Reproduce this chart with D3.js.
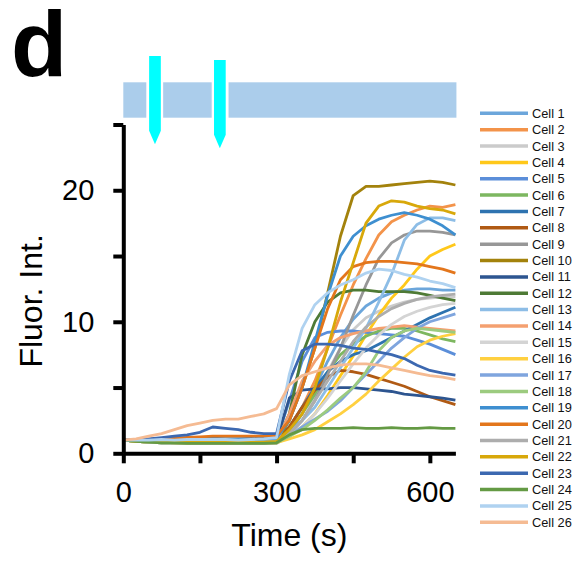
<!DOCTYPE html>
<html>
<head>
<meta charset="utf-8">
<script src="https://cdn.jsdelivr.net/npm/d3@7"></script>
<style>
  body { margin: 0; background: #fff; }
  svg { display: block; font-family: "Liberation Sans", Arial, sans-serif; }
</style>
</head>
<body>
<svg id="chart"></svg>
<script>
// sampling times (s)
const times = [0, 25, 50, 75, 100, 125, 150, 175, 200, 225, 250, 275, 300,
    325, 350, 375, 400, 425, 450, 475, 500, 525, 550, 575, 600, 625, 650];

const cellLabels = ["Cell 1", "Cell 2", "Cell 3", "Cell 4", "Cell 5", "Cell 6", "Cell 7",
    "Cell 8", "Cell 9", "Cell 10", "Cell 11", "Cell 12", "Cell 13", "Cell 14", "Cell 15",
    "Cell 16", "Cell 17", "Cell 18", "Cell 19", "Cell 20", "Cell 21", "Cell 22", "Cell 23",
    "Cell 24", "Cell 25", "Cell 26"];

// fluorescence per cell
const cellValues = [
    [1.0,1.0,0.95,0.9,0.9,0.9,0.85,0.9,0.9,0.85,0.9,0.9,0.9, 1.5,3.0,5.0,7.0,8.8,10.2,11.2,11.8,12.2,12.4,12.5,12.5,12.4,12.4],
    [1.0,0.95,0.9,0.9,0.85,0.85,0.85,0.8,0.85,0.8,0.85,0.85,0.9, 2.0,3.5,5.5,8.0,10.5,12.8,14.8,16.6,17.6,18.1,18.5,18.8,18.7,18.9],
    [1.0,0.9,0.85,0.8,0.8,0.75,0.75,0.75,0.75,0.75,0.75,0.75,0.75, 1.3,2.5,4.2,6.2,8.0,9.4,10.3,10.8,11.2,11.5,11.7,11.8,11.9,11.9],
    [1.0,0.9,0.85,0.85,0.8,0.8,0.8,0.8,0.8,0.8,0.8,0.8,0.8, 1.3,2.0,3.0,4.4,5.9,7.4,9.0,10.5,11.8,12.8,14.0,15.0,15.5,15.9],
    [1.0,0.95,0.95,0.9,0.9,0.9,0.9,0.9,0.9,0.9,0.9,0.9,1.0, 4.0,7.0,8.8,9.2,9.3,9.3,9.2,9.1,9.0,8.9,8.6,8.3,7.9,7.5],
    [1.0,0.9,0.85,0.8,0.8,0.8,0.8,0.8,0.8,0.8,0.8,0.8,0.85, 1.8,3.0,4.5,6.2,7.5,8.3,8.9,9.3,9.5,9.5,9.3,9.0,8.7,8.5],
    [1.0,1.0,1.05,1.1,1.1,1.1,1.1,1.15,1.1,1.1,1.15,1.2,1.2, 2.0,3.5,5.0,6.2,7.0,7.5,7.8,8.3,8.8,9.3,9.8,10.3,10.7,11.1],
    [1.0,0.95,0.9,0.85,0.85,0.85,0.8,0.85,0.8,0.8,0.85,0.85,0.9, 2.0,3.5,4.8,5.8,6.3,6.2,6.0,5.7,5.4,5.1,4.7,4.3,4.0,3.7],
    [1.0,0.9,0.85,0.8,0.8,0.8,0.75,0.75,0.8,0.75,0.75,0.8,0.8, 1.5,2.5,4.0,6.0,8.0,10.5,12.8,14.8,16.0,16.6,16.9,16.9,16.8,16.6],
    [1.0,0.95,0.9,0.9,0.85,0.85,0.85,0.85,0.85,0.85,0.85,0.85,0.9, 2.5,5.0,8.0,12.2,16.5,19.6,20.3,20.3,20.4,20.5,20.6,20.7,20.6,20.4],
    [1.0,0.95,0.9,0.9,0.9,0.9,0.9,0.95,0.95,0.9,0.95,0.95,1.0, 4.2,4.8,4.9,4.9,5.0,5.0,4.9,4.8,4.7,4.5,4.4,4.3,4.2,4.05],
    [1.0,0.9,0.85,0.85,0.8,0.8,0.8,0.8,0.8,0.8,0.8,0.8,0.85, 3.0,7.5,10.0,11.5,12.2,12.4,12.4,12.3,12.3,12.3,12.2,12.0,11.8,11.6],
    [1.0,1.0,1.0,0.95,1.0,1.0,0.95,1.0,1.0,0.95,1.0,1.0,1.0, 1.5,2.5,3.5,5.0,6.5,8.0,9.5,11.5,13.6,16.2,17.4,17.9,17.9,17.7],
    [1.0,0.95,0.9,0.85,0.85,0.8,0.8,0.75,0.75,0.75,0.8,0.8,0.85, 3.0,5.5,7.0,8.2,8.8,9.1,9.3,9.5,9.6,9.7,9.6,9.5,9.4,9.3],
    [1.0,0.9,0.85,0.8,0.8,0.8,0.8,0.8,0.8,0.8,0.8,0.8,0.8, 1.3,2.0,3.0,4.2,5.5,6.8,8.0,9.0,9.8,10.4,10.8,11.1,11.3,11.4],
    [1.0,0.9,0.85,0.85,0.8,0.8,0.8,0.8,0.8,0.8,0.8,0.8,0.8, 1.1,1.4,1.8,2.4,3.0,3.7,4.5,5.5,6.4,7.3,8.1,8.6,8.9,9.1],
    [1.0,0.95,0.9,0.9,0.85,0.85,0.85,0.85,0.85,0.85,0.85,0.85,0.9, 1.3,2.0,2.6,3.2,4.0,5.0,6.0,7.0,8.0,8.8,9.5,10.0,10.3,10.6],
    [1.0,0.9,0.85,0.8,0.8,0.8,0.8,0.8,0.8,0.8,0.8,0.8,0.8, 1.3,1.8,2.5,3.3,4.2,5.0,6.2,7.8,8.8,9.3,9.5,9.4,9.3,9.2],
    [1.0,1.0,1.0,1.0,1.05,1.05,1.1,1.1,1.1,1.1,1.1,1.1,1.15, 2.5,5.0,8.5,12.0,15.0,16.5,17.3,17.8,18.1,18.3,18.1,17.8,17.3,16.6],
    [1.0,1.0,1.05,1.1,1.15,1.2,1.25,1.3,1.3,1.3,1.3,1.3,1.35, 2.5,5.0,8.0,11.0,13.2,14.2,14.5,14.6,14.6,14.5,14.4,14.2,14.0,13.7],
    [1.0,0.9,0.85,0.8,0.8,0.8,0.75,0.75,0.75,0.75,0.75,0.75,0.8, 1.5,2.5,4.0,5.5,7.0,8.5,9.6,10.4,11.0,11.4,11.7,11.9,12.0,12.1],
    [1.0,0.9,0.9,0.85,0.85,0.85,0.85,0.85,0.85,0.85,0.85,0.85,0.9, 1.8,3.0,5.0,8.0,11.5,14.5,17.5,18.8,19.2,19.1,18.8,18.6,18.5,18.2],
    [1.0,1.0,1.1,1.2,1.3,1.4,1.6,2.0,1.9,1.8,1.6,1.5,1.5, 5.5,7.8,8.3,8.3,8.2,8.0,7.9,7.7,7.5,7.2,6.7,6.3,6.1,5.95],
    [1.0,0.9,0.85,0.8,0.8,0.75,0.75,0.75,0.75,0.75,0.75,0.75,0.8, 1.4,1.8,1.9,1.9,1.9,1.95,1.9,1.9,1.95,1.9,1.9,1.95,1.9,1.9],
    [1.0,1.0,1.0,1.05,1.0,1.05,1.05,1.05,1.05,1.0,1.05,1.1,1.2, 6.0,9.5,11.3,12.2,12.8,13.2,13.7,14.0,13.9,13.6,13.4,13.1,12.9,12.6],
    [1.0,1.1,1.3,1.5,1.8,2.1,2.3,2.5,2.6,2.6,2.8,3.0,3.4, 5.2,5.9,6.2,6.5,6.7,6.8,6.8,6.7,6.5,6.3,6.1,5.9,5.8,5.6]
];

const cellColors = ["#6ca6db", "#f3934a", "#cbcbcb", "#ffc81a", "#5b8ed9", "#7db760", "#2e73b0",
    "#b05a14", "#979797", "#a3820c", "#2d5590", "#4e7a35", "#8dbde6", "#f4a070", "#d4d4d4",
    "#ffd040", "#7fa5de", "#9ccb7f", "#3e8fd0", "#e3761c", "#adadad", "#d8a80a", "#3c68b0",
    "#649a44", "#afd2f0", "#f5bb93"];

// perfusion bar segments and stimulus arrows (s)
const perfusionBlocks = [[0, 45], [78, 173], [206, 652]];
const stimulusTimes = [62, 189];

const xTicks = [0, 150, 300, 450, 600];
const xTickLabels = ["0", "", "300", "", "600"];
const yTicks = [0, 5, 10, 15, 20, 25];
const yTickLabels = ["0", "", "10", "", "20", ""];

const width = 581, height = 561;
const svg = d3.select("#chart").attr("width", width).attr("height", height);

const x = d3.scaleLinear().domain([0, 650]).range([123.3, 455.4]);
const y = d3.scaleLinear().domain([0, 25]).range([453.3, 124.5]);

// panel letter
svg.append("text")
    .attr("x", 11)
    .attr("y", 76)
    .attr("font-size", 92)
    .attr("font-weight", "bold")
    .text("d");

// perfusion bar
svg.append("g").selectAll("rect")
    .data(perfusionBlocks)
    .join("rect")
    .attr("x", d => x(d[0]))
    .attr("width", d => x(d[1]) - x(d[0]))
    .attr("y", 82.3)
    .attr("height", 35.4)
    .attr("fill", "#abcdeb");

// stimulus arrows
const arrowW = 11.7;
svg.append("g").selectAll("path")
    .data(stimulusTimes)
    .join("path")
    .attr("d", (d, i) => {
        const cx = x(d), top = 56 + i * 4;
        return `M${cx - arrowW / 2},${top}H${cx + arrowW / 2}V${top + 74.7}L${cx},${top + 88.3}L${cx - arrowW / 2},${top + 74.7}Z`;
    })
    .attr("fill", "#00ffff");

// traces
const line = d3.line()
    .x((d, i) => x(times[i]))
    .y(d => y(d));

svg.append("g").selectAll("path")
    .data(cellValues)
    .join("path")
    .attr("d", line)
    .attr("fill", "none")
    .attr("stroke", (d, i) => cellColors[i])
    .attr("stroke-width", 2.8)
    .attr("stroke-linejoin", "round");

// axes
const xAxis = svg.append("g")
    .attr("transform", `translate(0,${y(0)})`)
    .call(d3.axisBottom(x).tickValues(xTicks).tickFormat((d, i) => xTickLabels[i])
        .tickSize(10).tickSizeOuter(0).tickPadding(18));

const yAxis = svg.append("g")
    .attr("transform", `translate(${x(0)},0)`)
    .call(d3.axisLeft(y).tickValues(yTicks).tickFormat((d, i) => yTickLabels[i])
        .tickSize(10).tickSizeOuter(0).tickPadding(19));

[xAxis, yAxis].forEach(a => {
    a.select(".domain").attr("stroke", "#000").attr("stroke-width", 4);
    a.selectAll(".tick line").attr("stroke", "#000").attr("stroke-width", 4);
    a.selectAll(".tick text")
        .attr("font-size", 29)
        .attr("font-family", "'Liberation Sans', Arial, sans-serif")
        .attr("fill", "#000");
});

svg.append("text")
    .attr("x", (x(0) + x(650)) / 2)
    .attr("y", 546)
    .attr("text-anchor", "middle")
    .attr("font-size", 32)
    .text("Time (s)");

svg.append("text")
    .attr("transform", `translate(42,${(y(0) + y(25)) / 2 + 12}) rotate(-90)`)
    .attr("text-anchor", "middle")
    .attr("font-size", 32)
    .text("Fluor. Int.");

// legend
const legend = svg.append("g").selectAll("g")
    .data(cellLabels)
    .join("g")
    .attr("transform", (d, i) => `translate(480,${113.3 + 16.36 * i})`);

legend.append("line")
    .attr("x1", 0).attr("x2", 48)
    .attr("stroke", (d, i) => cellColors[i])
    .attr("stroke-width", 3.5);

legend.append("text")
    .attr("x", 52)
    .attr("dy", "0.35em")
    .attr("font-size", 12.8)
    .attr("fill", "#111")
    .text(d => d);
</script>
</body>
</html>
